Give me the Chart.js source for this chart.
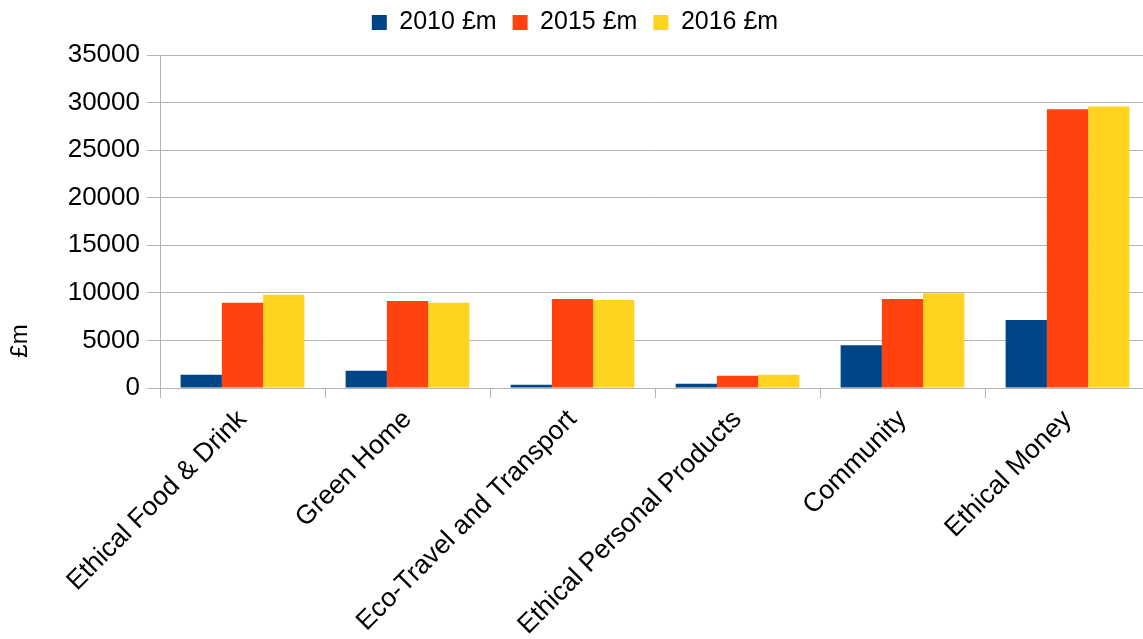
<!DOCTYPE html>
<html>
<head>
<meta charset="utf-8">
<script src="https://cdn.jsdelivr.net/npm/chart.js@4"></script>
<style>
  html, body { margin: 0; padding: 0; background: #fff; overflow: hidden; }
  #wrap { width: 1150px; height: 639px; }
</style>
</head>
<body>
<div id="wrap"><canvas id="salesChart"></canvas></div>
<script>
const categories = ['Ethical Food & Drink', 'Green Home', 'Eco-Travel and Transport', 'Ethical Personal Products', 'Community', 'Ethical Money'];
const seriesNames = ['2010 £m', '2015 £m', '2016 £m'];
const values2010 = [1400, 1800, 350, 450, 4500, 7150];
const values2015 = [8950, 9150, 9350, 1300, 9350, 29300];
const values2016 = [9800, 8950, 9250, 1400, 9950, 29600];
const yTicks = [0, 5000, 10000, 15000, 20000, 25000, 30000, 35000];

const font = 'Liberation Sans';

// y axis title sits lower than the plot centre, like the original
const yTitlePlugin = {
    id: 'yTitle',
    afterDraw(chart) {
        const ctx = chart.ctx;
        ctx.save();
        ctx.translate(20, 341);
        ctx.rotate(-Math.PI / 2);
        ctx.font = '24px "' + font + '"';
        ctx.fillStyle = '#000';
        ctx.textAlign = 'center';
        ctx.textBaseline = 'middle';
        ctx.fillText('£m', 0, 0);
        ctx.restore();
    }
};

// legend needs some extra room below it
const legendGap = {
    id: 'legendGap',
    beforeInit(chart) {
        const fit = chart.legend.fit;
        chart.legend.fit = function () {
            fit.bind(this)();
            this.height += 10;
        };
    }
};

const ctx = document.getElementById('salesChart').getContext('2d');
new Chart(ctx, {
    type: 'bar',
    data: {
        labels: categories,
        datasets: [
            { label: seriesNames[0], data: values2010, backgroundColor: '#004586' },
            { label: seriesNames[1], data: values2015, backgroundColor: '#ff420e' },
            { label: seriesNames[2], data: values2016, backgroundColor: '#ffd320' }
        ]
    },
    options: {
        responsive: true,
        maintainAspectRatio: false,
        animation: false,
        layout: { padding: { top: -6, right: 0, bottom: 0, left: 0 } },
        datasets: {
            bar: { categoryPercentage: 0.75, barPercentage: 1.0 }
        },
        plugins: {
            legend: {
                position: 'top',
                labels: {
                    boxWidth: 15,
                    boxHeight: 15,
                    padding: 16,
                    color: '#000',
                    font: { family: font, size: 25 }
                }
            },
            tooltip: { enabled: false }
        },
        scales: {
            x: {
                offset: true,
                grid: {
                    offset: true,
                    drawOnChartArea: false,
                    drawTicks: true,
                    tickLength: 10,
                    color: '#b3b3b3'
                },
                border: { color: '#b3b3b3' },
                ticks: {
                    autoSkip: false,
                    minRotation: 45,
                    maxRotation: 45,
                    padding: 6,
                    color: '#000',
                    font: { family: font, size: 26.5 }
                },
                afterFit(scale) { scale.height = 251; }
            },
            y: {
                min: 0,
                max: 35000,
                afterBuildTicks(scale) { scale.ticks = yTicks.map(v => ({ value: v })); },
                grid: {
                    color: '#b3b3b3',
                    tickLength: 13
                },
                border: { color: '#b3b3b3' },
                ticks: {
                    padding: 7,
                    color: '#000',
                    font: { family: font, size: 26 },
                    callback: v => String(v)
                },
                afterFit(scale) { scale.width = 160; }
            }
        }
    },
    plugins: [yTitlePlugin, legendGap]
});
</script>
</body>
</html>
